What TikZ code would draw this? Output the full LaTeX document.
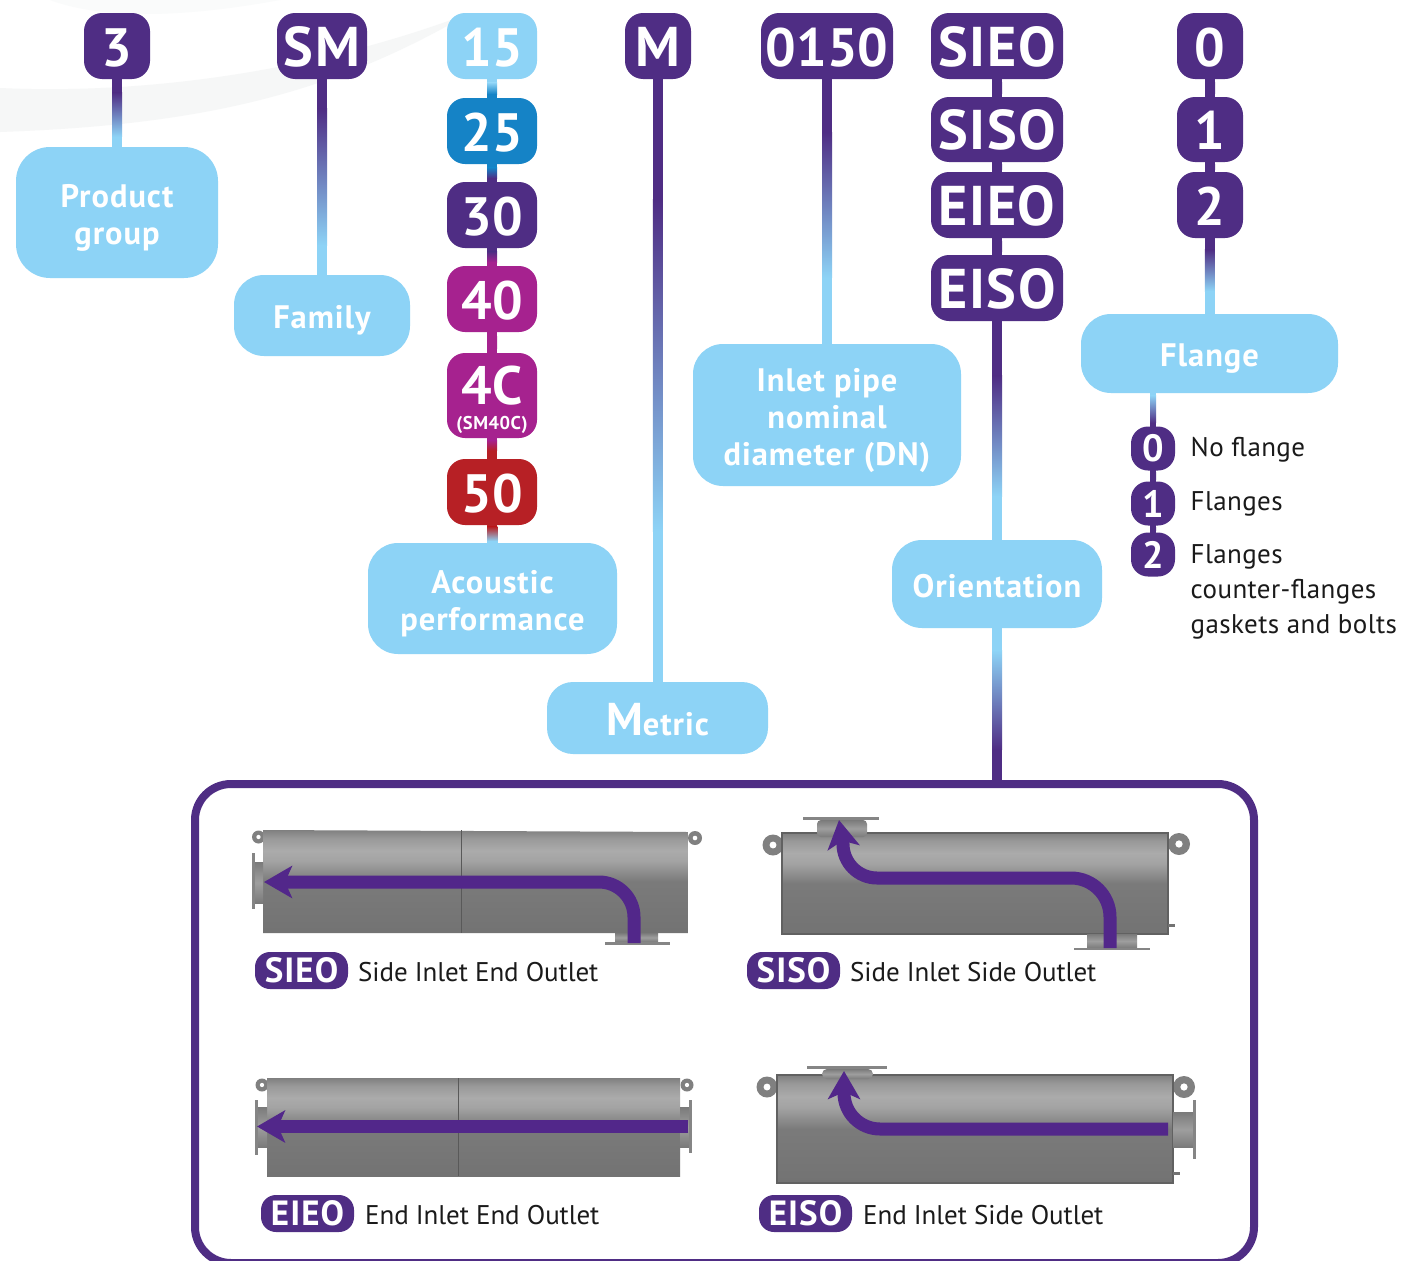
\documentclass[tikz,border=0pt]{standalone}
\usepackage{fontspec}
\setmainfont{PT Sans}
\newfontfamily\dinb[LetterSpace=3]{PT Sans Bold}
\newfontfamily\dinz{PT Sans Bold}
\newfontfamily\dinr[LetterSpace=-0.3]{PT Sans}
\newfontfamily\dink[LetterSpace=1.5]{PT Sans}
\usetikzlibrary{calc,arrows.meta,positioning}
\definecolor{pur}{HTML}{4F2D84}
\definecolor{arr}{HTML}{52278A}
\definecolor{lbl}{HTML}{8DD3F6}
\definecolor{blu}{HTML}{1583C6}
\definecolor{mag}{HTML}{A6228F}
\definecolor{red2}{HTML}{B72025}
\definecolor{txt}{HTML}{1A1A1A}
\definecolor{swoo}{HTML}{F6F7F7}
\definecolor{swoob}{HTML}{FAFBFB}
\pgfdeclarelayer{bottomlayer}
\pgfdeclarelayer{connlayer}
\pgfsetlayers{bottomlayer,connlayer,main}
\pgfdeclareverticalshading{pipeshade}{100bp}{
 color(0bp)=(black!55);
 color(25bp)=(black!55);
 color(50bp)=(black!52);
 color(60bp)=(black!36);
 color(65bp)=(black!33);
 color(71bp)=(black!40);
 color(75bp)=(black!50);
 color(100bp)=(black!50)}
\pgfdeclareverticalshading{stubshade}{100bp}{
 color(0bp)=(black!52);
 color(25bp)=(black!52);
 color(50bp)=(black!38);
 color(75bp)=(black!52);
 color(100bp)=(black!52)}
\newcommand{\pushdown}{\rule{0pt}{34pt}}
\tikzset{
 badgebase/.style={rounded corners=18pt,fill=#1,text=white,inner sep=0pt,minimum height=66pt,font=\dinz\fontsize{54}{54}\selectfont},
 badgebase/.default=pur,
 badge/.style={badgebase=#1,text height=40pt,text depth=0pt},
 badge/.default=pur,
 wordbadge/.style={badge,font=\dinb\fontsize{56}{56}\selectfont},
 infobox/.style={rounded corners=30pt,fill=lbl,text=white,inner sep=0pt,align=center,font=\dinb\fontsize{32.5}{37}\selectfont},
 oneline/.style={text height=30pt,text depth=4pt},
 smallbadge/.style={rounded corners=17pt,fill=pur,text=white,inner sep=0pt,minimum width=44pt,minimum height=44pt,font=\dinb\fontsize{38}{38}\selectfont},
 codebadge/.style={rounded corners=15pt,fill=pur,text=white,inner sep=0pt,minimum width=93pt,minimum height=37pt,font=\dinb\fontsize{35}{35}\selectfont},
 caption/.style={anchor=west,inner sep=0pt,text=txt,font=\dinr\fontsize{27}{35}\selectfont},
 keytext/.style={anchor=west,inner sep=0pt,text=txt,font=\dink\fontsize{27}{35}\selectfont},
 tap/.style={inner sep=0pt,minimum size=0pt,outer sep=0pt},
 flow/.style={draw=arr,line width=13pt,line cap=butt},
 flowtip/.style={-{Stealth[length=28pt,width=32pt,inset=7pt]}},
 body/.style={shading=pipeshade},
 edged/.style={shading=pipeshade,draw=black!62,line width=1.2pt},
 stub/.style={shading=stubshade},
 flangeplate/.style={fill=black!48},
 seam/.style={draw=black!65,line width=1pt},
 lugring/.style={fill=black!50},
 lughole/.style={fill=white}
}
% connector: a b width f1 f2 c1 c2
\newcommand{\conn}[7]{%
 \begin{pgfonlayer}{connlayer}
 \coordinate (P) at ($(#1.south)!#4!(#2.north)$);
 \coordinate (Q) at ($(#1.south)!#5!(#2.north)$);
 \fill[#6] ($(#1.south)+(-#3/2,-1)$) rectangle ($(P)+(#3/2,0)$);
 \shade[top color=#6,bottom color=#7,middle color=#6!50!#7] ($(P)+(-#3/2,0)$) rectangle ($(Q)+(#3/2,0)$);
 \fill[#7] ($(Q)+(-#3/2,0)$) rectangle ($(#2.north)+(#3/2,1)$);
 \end{pgfonlayer}}
\newcommand{\lug}[3]{\fill[lugring] (#1,#2) circle (#3); \fill[lughole] (#1,#2) circle (#3*0.33);}
\begin{document}
\begin{tikzpicture}[x=1pt,y=-1pt]
\useasboundingbox (0,0) rectangle (1401,1261);
\begin{pgfonlayer}{bottomlayer}
\fill[white] (0,0) rectangle (1401,1261);
\fill[swoo] (0,88) .. controls (150,95) and (320,70) .. (470,13) .. controls (330,95) and (200,125) .. (0,132) -- cycle;
\fill[swoob] (50,0) .. controls (90,15) and (160,22) .. (280,0) -- cycle;
\end{pgfonlayer}

% code badges
\node[badge,minimum width=66pt] (n3) at (117,46) {3};
\node[wordbadge,minimum width=90pt] (nSM) at (322,46) {SM\hspace{5pt}};
\node[badge=lbl,minimum width=90pt] (n15) at (492,46) {15};
\node[badge=blu,minimum width=90pt] (n25) at (492,131) {25\hspace{3pt}};
\node[badge,minimum width=90pt] (n30) at (492,215) {30\hspace{3pt}};
\node[badge=mag,minimum width=90pt] (n40) at (492,299) {40\hspace{3pt}};
\node[badgebase=mag,minimum width=90pt,minimum height=85pt,align=center] (n4C) at (492,395.5) {\rule{0pt}{46.5pt}4C\\[-29pt]{\dinb\fontsize{18.5}{18.5}\selectfont (SM40C)\rule[-4.5pt]{0pt}{4.5pt}}};
\node[badge=red2,minimum width=90pt] (n50) at (492,492) {50\hspace{3pt}};
\node[wordbadge,minimum width=66pt] (nM) at (658,46) {M\hspace{3pt}};
\node[badge,minimum width=132pt] (n0150) at (827,46) {0150};
\node[wordbadge,minimum width=132pt] (nSIEO) at (997,46) {SIEO};
\node[wordbadge,minimum width=132pt,minimum height=65pt] (nSISO) at (997,129.5) {SISO};
\node[wordbadge,minimum width=132pt] (nEIEO) at (997,205) {EIEO};
\node[wordbadge,minimum width=132pt] (nEISO) at (997,288) {EISO};
\node[badge,minimum width=66pt] (f0) at (1210,46) {0\hspace{3pt}};
\node[badge,minimum width=66pt,minimum height=65pt] (f1) at (1210,129.5) {1\hspace{3pt}};
\node[badge,minimum width=66pt] (f2) at (1210,205) {2\hspace{3pt}};

% info boxes
\node[infobox,minimum width=202pt,minimum height=131pt,rounded corners=34pt] (bProduct) at (117,212.5) {\pushdown Product\\group};
\node[infobox,oneline,minimum width=176pt,minimum height=81pt] (bFamily) at (322,315.5) {Family};
\node[infobox,minimum width=249pt,minimum height=111pt] (bAcoustic) at (492.5,598.5) {\pushdown Acoustic\\performance};
\node[infobox,minimum width=221pt,minimum height=72pt,rounded corners=26pt,text height=34pt,text depth=0pt] (bMetric) at (657.5,718) {{\fontsize{46}{46}\selectfont M}etric};
\node[infobox,minimum width=268pt,minimum height=142pt] (bInlet) at (827,415) {\pushdown Inlet pipe\\nominal\\diameter (DN)};
\node[infobox,oneline,minimum width=210pt,minimum height=88pt] (bOrient) at (997,584) {Orientation};
\node[infobox,oneline,minimum width=257pt,minimum height=79pt] (bFlange) at (1209.5,353.5) {Flange};

% frame
\draw[pur,line width=8pt,rounded corners=36pt] (195,784) rectangle (1254,1263);
\node[tap] (frameAnchor) at (997,780) {};
\node[tap] (flangeTap) at (1153,392) {};

% flange key
\node[smallbadge] (k0) at (1153,448.5) {0};
\node[smallbadge] (k1) at (1153,503.5) {1};
\node[smallbadge] (k2) at (1153,554.5) {2};
\node[keytext] (t0) at (1190.5,450) {No flange};
\node[keytext] (t1) at (1190.5,504) {Flanges};
\node[keytext,align=left,anchor=north west] (t2) at (1190.5,544) {Flanges\\counter-flanges\\gaskets and bolts};

% connectors
\conn{n3}{bProduct}{10}{.2}{.85}{pur}{lbl}
\conn{nSM}{bFamily}{10}{.15}{.85}{pur}{lbl}
\conn{n15}{n25}{10}{.2}{.8}{lbl}{blu}
\conn{n25}{n30}{10}{.2}{.8}{blu}{pur}
\conn{n30}{n40}{10}{.2}{.8}{pur}{mag}
\conn{n40}{n4C}{10}{.2}{.8}{mag}{mag}
\conn{n4C}{n50}{10}{.1}{.6}{mag}{red2}
\conn{n50}{bAcoustic}{10}{.1}{.9}{red2}{lbl}
\conn{nM}{bMetric}{10}{.2}{.75}{pur}{lbl}
\conn{n0150}{bInlet}{10}{.2}{.75}{pur}{lbl}
\conn{nSIEO}{nSISO}{10}{.2}{.8}{pur}{pur}
\conn{nSISO}{nEIEO}{10}{.2}{.8}{pur}{pur}
\conn{nEIEO}{nEISO}{10}{.2}{.8}{pur}{pur}
\conn{nEISO}{bOrient}{10}{.25}{.8}{pur}{lbl}
\conn{bOrient}{frameAnchor}{10}{.15}{.8}{lbl}{pur}
\conn{f0}{f1}{10}{.2}{.8}{pur}{pur}
\conn{f1}{f2}{10}{.2}{.8}{pur}{pur}
\conn{f2}{bFlange}{10}{.15}{.7}{pur}{lbl}
\conn{flangeTap}{k0}{6}{.1}{.9}{lbl}{pur}
\conn{k0}{k1}{6}{.2}{.8}{pur}{pur}
\conn{k1}{k2}{6}{.2}{.8}{pur}{pur}

% ---- SIEO pipe
\lug{258.5}{837}{6.5} \lug{695}{838}{7}
\path[body] (263,830) -- (688,832) -- (688,933) -- (263,933) -- cycle;
\draw[seam] (461,830) -- (461,933);
\path[stub] (255,862) rectangle (263,903);
\fill[flangeplate] (252,853) rectangle (255,909);
\path[stub] (615,933) rectangle (658,942);
\fill[flangeplate] (605,942) rectangle (670,945);
\draw[flow,flowtip] (634,943) -- (634,917) arc[start angle=0,end angle=-90,radius=35] -- (264,882);

% ---- SISO pipe
\lug{773}{845}{10.5} \lug{1179}{844}{11}
\path[edged] (782,833) rectangle (1168,934);
\path[stub,rounded corners=4pt] (817,820) rectangle (867,837);
\fill[flangeplate] (803,817) rectangle (879,820);
\path[stub] (1087,934) rectangle (1137,948);
\fill[flangeplate] (1074,948) rectangle (1150,950);
\fill[black!55] (1168,924) rectangle (1175,927);
\draw[flow,flowtip] (1110,948) -- (1110,917) arc[start angle=0,end angle=-90,radius=39] -- (877,878) arc[start angle=90,end angle=180,radius=34] -- (839,820);

% ---- EIEO pipe
\lug{262}{1085}{6.5} \lug{687}{1085}{6.5}
\path[body] (267,1078) rectangle (680,1176);
\draw[seam] (458,1078) -- (458,1176);
\path[stub] (258,1107) rectangle (267,1147);
\fill[flangeplate] (255,1100) rectangle (258,1155);
\path[stub] (680,1107) rectangle (689,1147);
\fill[flangeplate] (689,1100) rectangle (692,1153);
\draw[flow,flowtip] (688,1126.5) -- (257,1126.5);

% ---- EISO pipe
\lug{767}{1087}{10.5} \lug{1184}{1087}{11}
\path[edged] (777,1075) rectangle (1173,1183);
\path[stub,rounded corners=5pt] (822,1069) rectangle (873,1079);
\fill[flangeplate] (807,1066) rectangle (887,1069);
\path[stub] (1173,1112) rectangle (1193,1147);
\fill[flangeplate] (1193,1100) rectangle (1196,1159);
\fill[black!55] (1173,1172) rectangle (1180,1175);
\draw[flow,flowtip] (1168,1129) -- (880,1129) arc[start angle=90,end angle=180,radius=36] -- (844,1071);

% ---- captions
\node[codebadge] (cSIEO) at (301.5,970.5) {SIEO};
\node[caption] (tSIEO) at (358,972) {Side Inlet End Outlet};
\node[codebadge] (cSISO) at (793.5,970.5) {SISO};
\node[caption] (tSISO) at (850,972) {Side Inlet Side Outlet};
\node[codebadge] (cEIEO) at (307.5,1213.5) {EIEO};
\node[caption] (tEIEO) at (365,1215) {End Inlet End Outlet};
\node[codebadge] (cEISO) at (805.5,1213.5) {EISO};
\node[caption] (tEISO) at (863,1215) {End Inlet Side Outlet};
\end{tikzpicture}
\end{document}
